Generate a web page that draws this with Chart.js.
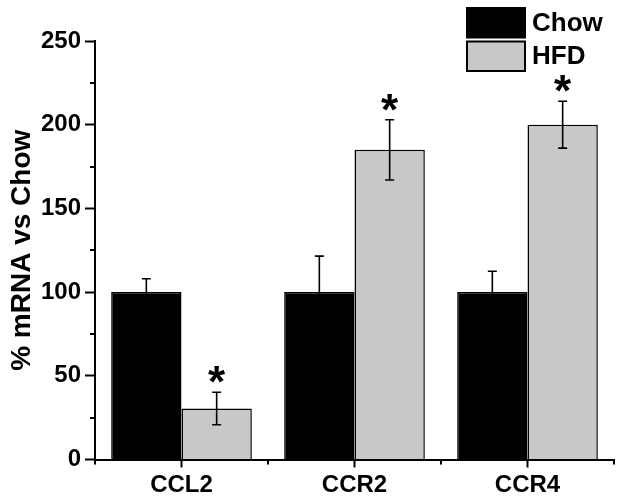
<!DOCTYPE html>
<html>
<head>
<meta charset="utf-8">
<script src="https://cdn.jsdelivr.net/npm/chart.js@4"></script>
<style>
html,body{margin:0;padding:0;background:#fff;}
#wrap{width:624px;height:502px;}
</style>
</head>
<body>
<div id="wrap"><canvas id="c" width="624" height="502"></canvas></div>
<script>
const categories = ['CCL2', 'CCR2', 'CCR4'];
const seriesNames = ['Chow', 'HFD'];
const chowValues = [100, 100, 100];
const chowErrors = [8, 21.5, 12.5];
const hfdValues = [30.5, 185, 200];
const hfdErrors = [9.7, 18, 14];
const hfdSignificant = [true, true, true];
const yTicks = [0, 50, 100, 150, 200, 250];
const yMinorTicks = [25, 75, 125, 175, 225];

const FONT = '"Liberation Sans", Arial, sans-serif';

const errorBarPlugin = {
  id: 'errorBars',
  afterDatasetsDraw(chart) {
    const ctx = chart.ctx;
    const y = chart.scales.y;
    chart.data.datasets.forEach((ds, di) => {
      const meta = chart.getDatasetMeta(di);
      meta.data.forEach((bar, i) => {
        const v = ds.data[i], e = ds.errors[i];
        const yt = y.getPixelForValue(v + e);
        const yb = y.getPixelForValue(v - e);
        ctx.save();
        ctx.strokeStyle = '#000';
        ctx.lineWidth = 1.6;
        ctx.beginPath();
        ctx.moveTo(bar.x, yt); ctx.lineTo(bar.x, yb);
        ctx.moveTo(bar.x - 4.5, yt); ctx.lineTo(bar.x + 4.5, yt);
        ctx.moveTo(bar.x - 4.5, yb); ctx.lineTo(bar.x + 4.5, yb);
        ctx.stroke();
        if (ds.significant && ds.significant[i]) {
          ctx.fillStyle = '#000';
          ctx.font = 'bold 44px ' + FONT;
          ctx.textAlign = 'center';
          ctx.textBaseline = 'alphabetic';
          const m = ctx.measureText('*');
          const centerY = yt - 17.5;
          const baseline = centerY + (m.actualBoundingBoxAscent - m.actualBoundingBoxDescent) / 2;
          ctx.fillText('*', bar.x, baseline);
        }
        ctx.restore();
      });
    });
  }
};

const minorTickPlugin = {
  id: 'minorTicks',
  afterDraw(chart) {
    const ctx = chart.ctx;
    const y = chart.scales.y, x = chart.scales.x;
    ctx.save();
    ctx.strokeStyle = '#000';
    ctx.lineWidth = 2;
    ctx.beginPath();
    yMinorTicks.forEach(v => {
      const py = Math.round(y.getPixelForValue(v));
      ctx.moveTo(y.right, py); ctx.lineTo(y.right - 5, py);
    });
    const n = categories.length;
    for (let i = 0; i <= n; i++) {
      let px;
      if (i === 0) px = x.left;
      else if (i === n) px = x.right;
      else px = (x.getPixelForValue(i - 1) + x.getPixelForValue(i)) / 2;
      ctx.moveTo(px, x.top); ctx.lineTo(px, x.top + 5);
    }
    ctx.stroke();
    ctx.restore();
  }
};

const legendPlugin = {
  id: 'customLegend',
  afterDraw(chart) {
    const ctx = chart.ctx;
    ctx.save();
    chart.data.datasets.forEach((ds, i) => {
      const bx = 467, by = 8 + i * 33.5, bw = 58, bh = 29.5;
      ctx.fillStyle = ds.backgroundColor;
      ctx.fillRect(bx, by, bw, bh);
      ctx.strokeStyle = '#000';
      ctx.lineWidth = 2;
      ctx.strokeRect(bx, by, bw, bh);
      ctx.fillStyle = '#000';
      ctx.font = 'bold 26px ' + FONT;
      ctx.textAlign = 'left';
      ctx.textBaseline = 'middle';
      ctx.fillText(ds.label, 532, by + bh / 2 + 1);
    });
    ctx.restore();
  }
};

new Chart(document.getElementById('c'), {
  type: 'bar',
  data: {
    labels: categories,
    datasets: [
      { label: seriesNames[0], data: chowValues, errors: chowErrors,
        backgroundColor: '#000000', borderColor: '#000', borderWidth: 1.5 },
      { label: seriesNames[1], data: hfdValues, errors: hfdErrors, significant: hfdSignificant,
        backgroundColor: '#c8c8c8', borderColor: '#000', borderWidth: 1.5 }
    ]
  },
  options: {
    responsive: false,
    animation: false,
    layout: { padding: { top: 41, right: 10, left: 0, bottom: 0 } },
    categoryPercentage: 0.813,
    barPercentage: 1.0,
    plugins: { legend: { display: false }, tooltip: { enabled: false } },
    scales: {
      x: {
        grid: { display: true, drawOnChartArea: false, drawTicks: true, tickLength: 8, tickWidth: 2, tickColor: '#000', offset: false },
        border: { display: true, width: 2, color: '#000' },
        ticks: { color: '#000', font: { family: FONT, size: 24, weight: 'bold' }, padding: 3, maxRotation: 0 },
        afterFit(s) { s.height = 42.5; }
      },
      y: {
        min: 0, max: 250,
        afterBuildTicks(s) { s.ticks = yTicks.map(v => ({ value: v })); },
        grid: { display: true, drawOnChartArea: false, drawTicks: true, tickLength: 10, tickWidth: 2, tickColor: '#000' },
        border: { display: true, width: 2, color: '#000' },
        ticks: { color: '#000', font: { family: FONT, size: 24, weight: 'bold' }, padding: 4 },
        title: { display: true, text: '% mRNA vs Chow', color: '#000', font: { family: FONT, size: 28, weight: 'bold' }, padding: { top: 5, bottom: 0 } },
        afterFit(s) { s.width = 95; }
      }
    }
  },
  plugins: [errorBarPlugin, minorTickPlugin, legendPlugin]
});
</script>
</body>
</html>
